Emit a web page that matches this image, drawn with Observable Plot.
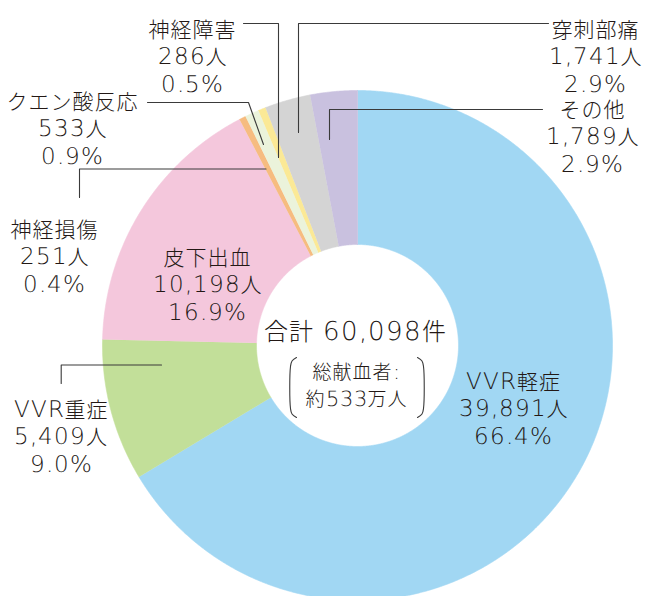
<!DOCTYPE html>
<html><head><meta charset="utf-8">
<script src="https://cdn.jsdelivr.net/npm/d3@7"></script>
<script src="https://cdn.jsdelivr.net/npm/@observablehq/plot@0.6"></script>
<style>
@font-face { font-family: "LatinMix"; src: local("DejaVu Sans ExtraLight"), local("DejaVuSans-ExtraLight"), local("DejaVu Sans"), local("DejaVuSans"); unicode-range: U+0020-007E; size-adjust: 108%; }
html,body{margin:0;padding:0;background:#fff;}
</style></head><body><script>
// ---- data ----
const categories = ["VVR軽症","VVR重症","皮下出血","神経損傷","クエン酸反応","神経障害","穿刺部痛","その他"];
const counts = [39891, 5409, 10198, 251, 533, 286, 1741, 1789];
const percents = ["66.4%","9.0%","16.9%","0.4%","0.9%","0.5%","2.9%","2.9%"];
const colors = ["#a1d7f3","#c2df99","#f4c7dc","#f6bc80","#ebf3db","#fbe996","#d4d4d4","#c9c1df"];
const totalLabel = "合計 60,098件";
const donorLabel = "総献血者:\n約533万人";

// ---- layout (pixels) ----
const W = 645, H = 596;
const CX = 357, CY = 345, R0 = 101, R1 = 255;
const labelPos = {
  "VVR軽症": [513, 407], "VVR重症": [60.5, 435], "皮下出血": [207, 283],
  "神経損傷": [54, 255], "クエン酸反応": [72, 127], "神経障害": [192, 55],
  "穿刺部痛": [595, 55], "その他": [592, 135]
};
const leaders = {
  "神経障害": [[243,23],[278,23],[278,157]],
  "穿刺部痛": [[548,23],[298,23],[298,132]],
  "その他": [[542,109],[329,109],[329,139]],
  "クエン酸反応": [[147,102],[248,102],[263,144]],
  "神経損傷": [[79,197],[79,168.5],[265.5,168.5]],
  "VVR重症": [[60.7,383],[60.7,364.5],[161,364.5]]
};
const brackets = [
  [[296,357],[291.5,360.5],[290,366],[290,408],[291.5,413.5],[296,417]],
  [[417,357],[421.5,360.5],[423,366],[423,408],[421.5,413.5],[417,417]]
];

// ---- geometry ----
const arcs = d3.pie().sort(null).startAngle(0).endAngle(2 * Math.PI)(counts);
const slicePts = [];
arcs.forEach((a, i) => {
  const n = Math.max(2, Math.ceil((a.endAngle - a.startAngle) / (Math.PI / 720)));
  for (let k = 0; k <= n; k++) {
    const t = a.startAngle + (a.endAngle - a.startAngle) * k / n;
    slicePts.push({cat: categories[i], x: CX + R1 * Math.sin(t), y: CY - R1 * Math.cos(t)});
  }
  for (let k = n; k >= 0; k--) {
    const t = a.startAngle + (a.endAngle - a.startAngle) * k / n;
    slicePts.push({cat: categories[i], x: CX + R0 * Math.sin(t), y: CY - R0 * Math.cos(t)});
  }
});
const fmt = d3.format(",");
const labels = categories.map((c, i) => ({
  text: `${c}\n${fmt(counts[i])}人\n${percents[i]}`, x: labelPos[c][0], y: labelPos[c][1]
}));
const leaderPts = Object.entries(leaders).flatMap(([k, pts]) => pts.map(([x, y]) => ({k, x, y})));
const bracketPts = brackets.flatMap((pts, j) => pts.map(([x, y]) => ({k: j, x, y})));

const FONT = "LatinMix, 'Noto Sans CJK JP', sans-serif";
const INK = "#231815";

const chart = Plot.plot({
  width: W, height: H, margin: 0,
  x: {domain: [0, W], range: [0, W], axis: null},
  y: {domain: [0, H], range: [0, H], axis: null},
  color: {domain: categories, range: colors},
  style: {background: "#fff", letterSpacing: "1px", fontFamily: FONT},
  marks: [
    Plot.line(slicePts, {x: "x", y: "y", z: "cat", fill: "cat", stroke: "cat", strokeWidth: 0.6, curve: "linear"}),
    Plot.line(leaderPts, {x: "x", y: "y", z: "k", stroke: "#3a3a3a", strokeWidth: 1.1, curve: "linear"}),
    Plot.line(bracketPts, {x: "x", y: "y", z: "k", stroke: "#3a3a3a", strokeWidth: 1.1, curve: "catmull-rom"}),
    Plot.text(labels, {x: "x", y: "y", text: "text", fontSize: 21, lineHeight: 1.3, fill: INK, fontFamily: FONT, fontWeight: 300}),
    Plot.text([totalLabel], {x: () => 355, y: () => 332, text: d => d, fontSize: 24, fill: INK, fontFamily: FONT, fontWeight: 300}),
    Plot.text([donorLabel], {x: () => 356, y: () => 383, text: d => d, fontSize: 19, lineHeight: 1.45, fill: INK, fontFamily: FONT, fontWeight: 300})
  ]
});
document.body.appendChild(chart);
</script></body></html>
